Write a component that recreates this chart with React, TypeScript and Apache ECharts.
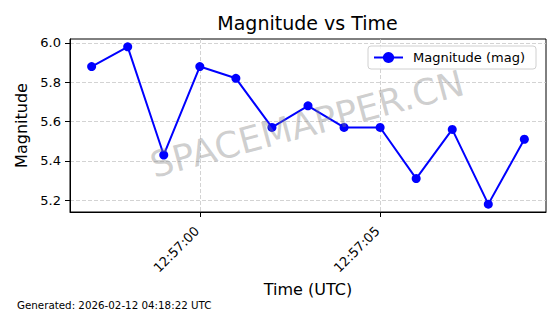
import React, { useEffect, useRef } from "react";
import * as echarts from "echarts";

const times = [
  "12:56:57", "12:56:58", "12:56:59", "12:57:00", "12:57:01", "12:57:02", "12:57:03",
  "12:57:04", "12:57:05", "12:57:06", "12:57:07", "12:57:08", "12:57:09",
];
const magnitudes = [5.88, 5.98, 5.43, 5.88, 5.82, 5.57, 5.68, 5.57, 5.57, 5.31, 5.56, 5.18, 5.51];
const xTickLabels = ["12:57:00", "12:57:05"];
const yTickValues = [5.2, 5.4, 5.6, 5.8, 6.0];

const toSec = (t: string) => {
  const [h, m, s] = t.split(":").map(Number);
  return h * 3600 + m * 60 + s;
};
const pad = (n: number) => String(n).padStart(2, "0");
const fromSec = (v: number) => {
  const r = Math.round(v);
  return `${pad(Math.floor(r / 3600))}:${pad(Math.floor((r % 3600) / 60))}:${pad(r % 60)}`;
};

const FONT = "DejaVu Sans";

export default function App() {
  const ref = useRef<HTMLDivElement>(null);
  useEffect(() => {
    if (!ref.current) return;
    const chart = echarts.init(ref.current, undefined, { renderer: "svg" });
    const xs = times.map(toSec);
    const xMin = xs[0] - 0.6;
    const xMax = xs[xs.length - 1] + 0.6;
    const yMin = Math.min(...magnitudes);
    const yMax = Math.max(...magnitudes);
    const yPad = (yMax - yMin) * 0.05;
    const gridLine = { show: true, lineStyle: { color: "#c8c8c8", type: [4, 2], width: 0.8 } };
    chart.setOption({
      animation: false,
      backgroundColor: "#fff",
      textStyle: { fontFamily: FONT },
      grid: {
        left: 70, right: 14, top: 39, bottom: 102,
        show: true, borderColor: "#000", borderWidth: 1,
        outerBoundsMode: "none",
      },
      legend: {
        left: 368, top: 46,
        padding: [5, 11, 5, 5],
        itemWidth: 29, itemHeight: 14,
        backgroundColor: "rgba(255,255,255,0.8)",
        borderColor: "#d0d0d0", borderWidth: 1, borderRadius: 3,
        textStyle: { fontFamily: FONT, fontSize: 13, color: "#000", padding: [0, 0, 0, 5] },
        data: ["Magnitude (mag)"],
      },
      xAxis: {
        type: "value",
        min: xMin, max: xMax,
        name: "Time (UTC)",
        nameLocation: "middle",
        nameGap: 69,
        nameTextStyle: { fontFamily: FONT, fontSize: 16, color: "#000" },
        axisLine: { show: true, onZero: false, lineStyle: { color: "#000", width: 1 } },
        axisTick: { show: true, length: 5, lineStyle: { color: "#000" }, customValues: xTickLabels.map(toSec) },
        axisLabel: {
          customValues: xTickLabels.map(toSec),
          formatter: (v: number) => fromSec(v),
          rotate: 45, margin: 14, padding: [0, 4, 0, 0],
          fontFamily: FONT, fontSize: 13, color: "#000",
        },
        splitLine: gridLine,
      },
      yAxis: {
        type: "value",
        min: +(yMin - yPad).toFixed(3), max: +(yMax + yPad).toFixed(3),
        name: "Magnitude",
        nameLocation: "middle",
        nameGap: 37,
        nameTextStyle: { fontFamily: FONT, fontSize: 16, color: "#000" },
        axisLine: { show: true, lineStyle: { color: "#000", width: 1 } },
        axisTick: { show: true, length: 5, lineStyle: { color: "#000" }, customValues: yTickValues },
        axisLabel: {
          customValues: yTickValues,
          formatter: (v: number) => v.toFixed(1),
          margin: 9, fontFamily: FONT, fontSize: 13, color: "#000",
        },
        splitLine: gridLine,
      },
      graphic: [
        {
          type: "text", x: 307.5, y: 23, z: 10,
          style: { text: "Magnitude vs Time", font: `19px "${FONT}"`, fill: "#000", textAlign: "center", textVerticalAlign: "middle" },
        },
        {
          type: "text", x: 17, y: 305, z: 10,
          style: { text: "Generated: 2026-02-12 04:18:22 UTC", font: `10.3px "${FONT}"`, fill: "#000", textAlign: "left", textVerticalAlign: "middle" },
        },
        {
          type: "text", x: 307, y: 124, rotation: (15 * Math.PI) / 180, z: 100,
          style: { text: "SPACEMAPPER.CN", font: `36px "${FONT}"`, fill: "rgba(128,128,128,0.38)", textAlign: "center", textVerticalAlign: "middle" },
        },
      ],
      series: [
        {
          name: "Magnitude (mag)",
          type: "line",
          data: xs.map((x, i) => [x, magnitudes[i]]),
          color: "#0000ff",
          lineStyle: { width: 2, color: "#0000ff" },
          symbol: "circle",
          symbolSize: 9,
          showSymbol: true,
          itemStyle: { color: "#0000ff" },
        },
      ],
    });
    return () => chart.dispose();
  }, []);
  return <div ref={ref} style={{ width: 560, height: 314, position: "absolute", left: 0, top: 0 }} />;
}
